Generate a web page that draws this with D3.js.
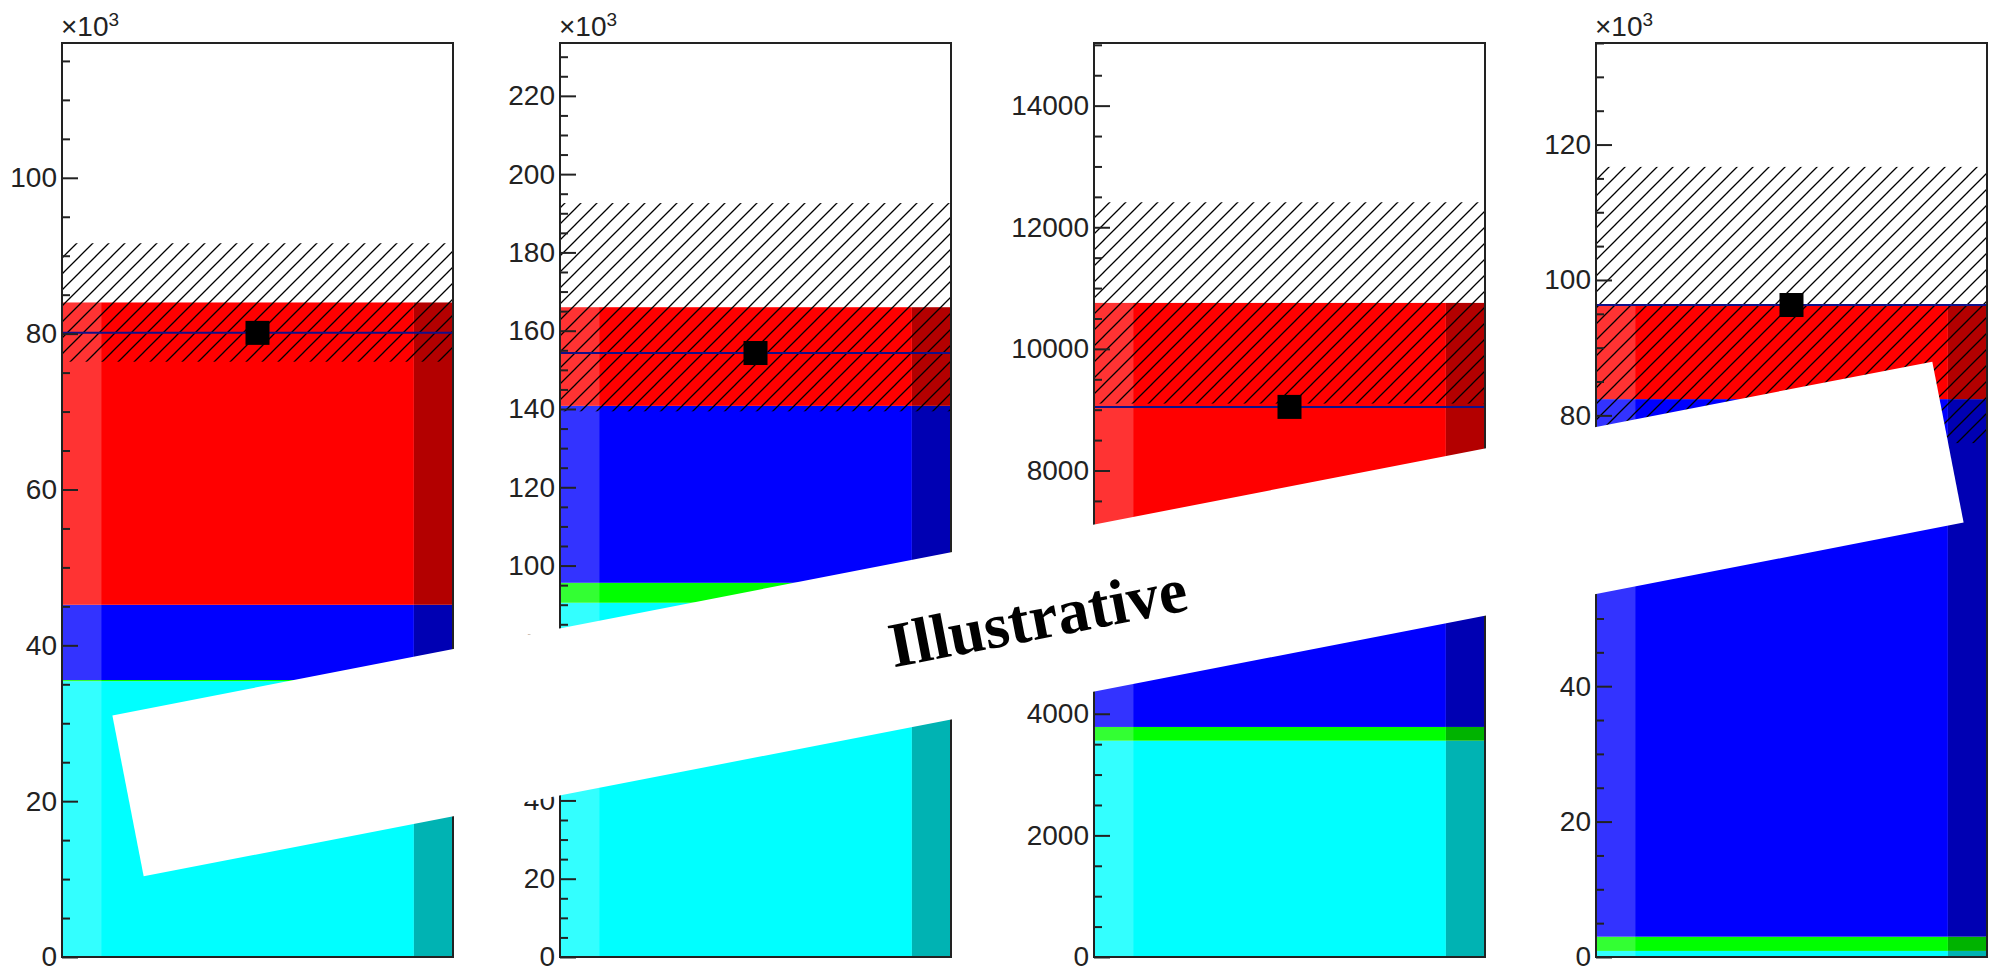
<!DOCTYPE html>
<html>
<head>
<meta charset="utf-8">
<script src="https://cdn.jsdelivr.net/npm/d3@7"></script>
<style>
  body { margin: 0; background: #fff; }
  svg { display: block; }
</style>
</head>
<body>
<figure id="stack" style="margin:0"></figure>
<script>
// one bin per panel, stacked backgrounds + data point
const panels = ["P1", "P2", "P3", "P4"];
const cyanVals  = [35400, 90500, 3557, 900];
const greenVals = [150, 5100, 226, 2100];
const blueVals  = [9650, 45200, 2617, 79400];
const redVals   = [38800, 25200, 4356, 13900];
const dataVals  = [80100, 154300, 9046, 96300];
const errVals   = [7600, 26600, 1655, 20400];   // half width of hatched band
const yMax      = [117300, 233500, 15030, 135000];
const majorStep = [20000, 20000, 2000, 20000];
const minorStep = [5000, 5000, 500, 5000];
const expo      = [3, 3, 0, 3];                 // axis label exponent
const bannerText = "Illustrative";

const width = 1996, height = 970;
const panelLeft = [62, 560, 1094, 1596];
const panelW = 391, plotTop = 43, plotBottom = 957;

const keys = ["cyan", "green", "blue", "red"];
const colors = { cyan: "#00ffff", green: "#00ff00", blue: "#0000ff", red: "#ff0000" };

const rows = panels.map((p, i) => ({
  panel: p, cyan: cyanVals[i], green: greenVals[i], blue: blueVals[i], red: redVals[i]
}));
const series = d3.stack().keys(keys)(rows);

const svg = d3.select("figure#stack")
  .append("svg")
  .attr("width", width)
  .attr("height", height);

// hatch pattern (like root 3004)
svg.append("defs").append("pattern")
  .attr("id", "hatch")
  .attr("patternUnits", "userSpaceOnUse")
  .attr("width", 16).attr("height", 16)
  .append("path")
  .attr("d", "M-4,4 L4,-4 M0,16 L16,0 M12,20 L20,12")
  .attr("stroke", "#000")
  .attr("stroke-width", 1.3);

panels.forEach((p, i) => {
  const g = svg.append("g");
  const x = d3.scaleLinear().domain([0, 1]).range([panelLeft[i], panelLeft[i] + panelW]);
  const y = d3.scaleLinear().domain([0, yMax[i]]).range([plotBottom, plotTop]);

  // stacked bars, lighter left strip and darker right strip
  const strips = [
    { a: 0, b: 0.1, tone: c => d3.interpolateRgb(c, "#fff")(0.2) },
    { a: 0.1, b: 0.9, tone: c => c },
    { a: 0.9, b: 1, tone: c => d3.rgb(c).darker(1).formatHex() }
  ];
  series.forEach(s => {
    const d = s[i];
    strips.forEach(st => {
      g.append("rect")
        .attr("x", x(st.a))
        .attr("y", y(d[1]))
        .attr("width", x(st.b) - x(st.a))
        .attr("height", y(d[0]) - y(d[1]))
        .attr("fill", st.tone(colors[s.key]));
    });
  });

  // uncertainty band around the stack total
  const total = series[series.length - 1][i][1];
  g.append("rect")
    .attr("x", x(0))
    .attr("y", y(total + errVals[i]))
    .attr("width", x(1) - x(0))
    .attr("height", y(total - errVals[i]) - y(total + errVals[i]))
    .attr("fill", "url(#hatch)");

  // data line + marker
  g.append("line")
    .attr("x1", x(0)).attr("x2", x(1))
    .attr("y1", y(dataVals[i])).attr("y2", y(dataVals[i]))
    .attr("stroke", "#10108a")
    .attr("stroke-width", 2);
  g.append("rect")
    .attr("x", x(0.5) - 12)
    .attr("y", y(dataVals[i]) - 12)
    .attr("width", 24).attr("height", 24)
    .attr("fill", "#000");

  // frame
  g.append("rect")
    .attr("x", x(0)).attr("y", plotTop)
    .attr("width", panelW).attr("height", plotBottom - plotTop)
    .attr("fill", "none")
    .attr("stroke", "#222")
    .attr("stroke-width", 2);

  // y axis, ticks pointing inside
  const scale = Math.pow(10, expo[i]);
  const major = d3.range(0, yMax[i] + 1, majorStep[i]);
  const minor = d3.range(0, yMax[i] + 1, minorStep[i]).filter(v => v % majorStep[i] !== 0);

  g.append("g")
    .attr("transform", "translate(" + x(0) + ",0)")
    .call(d3.axisLeft(y).tickValues(minor).tickSizeInner(-8).tickSizeOuter(0).tickFormat(""))
    .call(a => a.select(".domain").remove())
    .call(a => a.selectAll("line").attr("stroke", "#222").attr("stroke-width", 2));

  g.append("g")
    .attr("transform", "translate(" + x(0) + ",0)")
    .call(d3.axisLeft(y).tickValues(major).tickSizeInner(-16).tickSizeOuter(0).tickPadding(5)
      .tickFormat(v => d3.format("d")(v / scale)))
    .call(a => a.select(".domain").remove())
    .call(a => a.selectAll("line").attr("stroke", "#222").attr("stroke-width", 2))
    .call(a => a.selectAll("text")
      .style("font-family", "'Liberation Sans', Arial, sans-serif")
      .style("font-size", "28px")
      .attr("fill", "#222"));

  if (expo[i] > 0) {
    const t = g.append("text")
      .attr("x", x(0) - 1)
      .attr("y", 36)
      .style("font-family", "'Liberation Sans', Arial, sans-serif")
      .style("font-size", "28px")
      .attr("fill", "#222")
      .text("\u00d710");
    t.append("tspan")
      .attr("dy", -10)
      .style("font-size", "19px")
      .text(expo[i]);
  }
});

// banner across the panels
const banner = svg.append("g")
  .attr("transform", "translate(1038,619) rotate(-11)");
banner.append("rect")
  .attr("x", -927).attr("y", -82)
  .attr("width", 1854).attr("height", 164)
  .attr("fill", "#fff");
banner.append("text")
  .attr("x", 0).attr("y", 20)
  .attr("text-anchor", "middle")
  .style("font-family", "'Liberation Serif', 'Times New Roman', serif")
  .style("font-weight", "bold")
  .style("font-size", "64px")
  .attr("fill", "#000")
  .text(bannerText);
</script>
</body>
</html>
